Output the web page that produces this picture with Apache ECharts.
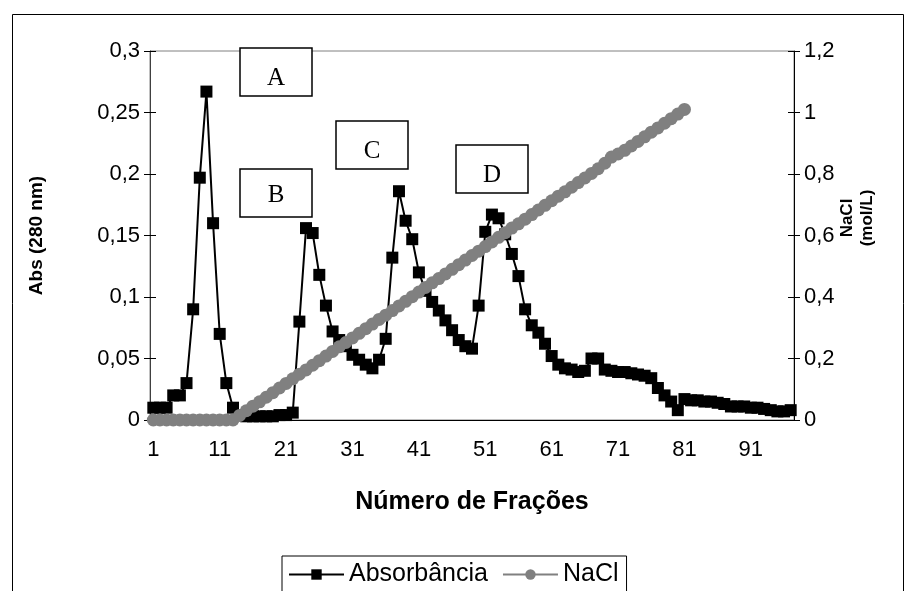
<!DOCTYPE html>
<html>
<head>
<meta charset="utf-8">
<script src="https://cdn.jsdelivr.net/npm/echarts@6/dist/echarts.min.js"></script>
<style>
html,body{margin:0;padding:0;background:#fff;}
#chart{width:909px;height:591px;}
</style>
</head>
<body>
<div id="chart"></div>
<script>
const fractions = ['1','2','3','4','5','6','7','8','9','10','11','12','13','14','15','16','17','18','19','20',
'21','22','23','24','25','26','27','28','29','30','31','32','33','34','35','36','37','38','39','40',
'41','42','43','44','45','46','47','48','49','50','51','52','53','54','55','56','57','58','59','60',
'61','62','63','64','65','66','67','68','69','70','71','72','73','74','75','76','77','78','79','80',
'81','82','83','84','85','86','87','88','89','90','91','92','93','94','95','96','97'];

const absorbancia = [
0.010,0.010,0.010,0.020,0.020,0.030,0.090,0.197,0.267,0.160,
0.070,0.030,0.010,0.004,0.003,0.003,0.003,0.003,0.003,0.004,
0.004,0.006,0.080,0.156,0.152,0.118,0.093,0.072,0.065,0.060,
0.053,0.049,0.045,0.042,0.049,0.066,0.132,0.186,0.162,0.147,
0.120,0.105,0.096,0.089,0.081,0.073,0.065,0.060,0.058,0.093,
0.153,0.167,0.164,0.151,0.135,0.117,0.090,0.077,0.071,0.062,
0.052,0.045,0.042,0.041,0.039,0.040,0.050,0.050,0.041,0.040,
0.039,0.039,0.038,0.037,0.036,0.034,0.026,0.020,0.015,0.008,
0.017,0.016,0.016,0.015,0.015,0.014,0.013,0.011,0.011,0.011,
0.010,0.010,0.009,0.008,0.007,0.007,0.008];

const nacl = [
0,0,0,0,0,0,0,0,0,0,
0,0,0,0.015,0.030,0.045,0.059,0.074,0.089,0.104,
0.119,0.134,0.149,0.163,0.178,0.193,0.208,0.223,0.238,0.252,
0.267,0.282,0.297,0.312,0.327,0.341,0.356,0.371,0.386,0.401,
0.416,0.431,0.446,0.460,0.475,0.490,0.505,0.520,0.535,0.549,
0.564,0.579,0.594,0.609,0.624,0.638,0.653,0.668,0.683,0.698,
0.713,0.728,0.742,0.757,0.772,0.787,0.802,0.817,0.835,0.855,
0.865,0.877,0.891,0.906,0.921,0.936,0.950,0.965,0.980,0.995,
1.010,null,null,null,null,null,null,null,null,null,
null,null,null,null,null,null,null];

const peakLabels = ['A','B','C','D'];

const fmt = v => String(Number(v.toFixed(3))).replace('.', ',');
const FONT = 'Liberation Sans, Arial, sans-serif';

const chart = echarts.init(document.getElementById('chart'));

const boxes = [
  {x:240, y:48, cy:78},
  {x:240, y:169, cy:195},
  {x:336, y:121, cy:151},
  {x:456, y:145, cy:175}
];
const graphics = [
  {type:'rect', left:10, top:12, shape:{x:0,y:0,width:891,height:600}, style:{fill:'none', stroke:'#000', lineWidth:1}, z:0, silent:true}
];
boxes.forEach((b,i)=>{
  graphics.push({type:'rect', shape:{x:b.x, y:b.y, width:72, height:48}, style:{fill:'#fff', stroke:'#000', lineWidth:1.5}, z:10});
  graphics.push({type:'text', x:b.x+36, y:b.cy, style:{text:peakLabels[i], fill:'#000', font:'25px "Liberation Serif", "Times New Roman", serif', textAlign:'center', textVerticalAlign:'middle'}, z:11});
});
// right axis title (two rotated lines)
graphics.push({type:'text', x:847, y:218, rotation:Math.PI/2,
  style:{text:'NaCl', fill:'#000', font:'bold 17px "Liberation Sans", Arial, sans-serif', textAlign:'center', textVerticalAlign:'middle'}, z:11});
graphics.push({type:'text', x:867, y:218, rotation:Math.PI/2,
  style:{text:'(mol/L)', fill:'#000', font:'bold 17px "Liberation Sans", Arial, sans-serif', textAlign:'center', textVerticalAlign:'middle'}, z:11});

const tickCommon = {interval:9, length:6, lineStyle:{color:'#000', width:1}};

chart.setOption({
  animation:false,
  backgroundColor:'#fff',
  grid:{left:150, right:115, top:51, bottom:171, show:true, borderColor:'#808080', borderWidth:1},
  legend:{
    left:282, top:556,
    data:['Absorbância','NaCl'],
    borderColor:'#000', borderWidth:1,
    padding:[6,8,12,6],
    itemGap:14,
    itemWidth:55, itemHeight:13,
    textStyle:{fontSize:25, color:'#000', fontFamily:FONT}
  },
  xAxis:[
    {type:'category', data:fractions, boundaryGap:true, position:'bottom',
     axisLine:{lineStyle:{color:'#000', width:1}},
     axisTick:tickCommon,
     axisLabel:{interval:9, fontSize:22, color:'#000', margin:19, fontFamily:FONT},
     name:'Número de Frações', nameLocation:'middle', nameGap:70,
     nameTextStyle:{fontSize:25, fontWeight:'bold', color:'#000', fontFamily:FONT},
     splitLine:{show:false}},
    {type:'category', data:fractions, boundaryGap:true, position:'bottom',
     axisLine:{show:false}, axisTick:Object.assign({inside:true}, tickCommon),
     axisLabel:{show:false}, splitLine:{show:false}}
  ],
  yAxis:[
    {type:'value', position:'left', min:0, max:0.3, interval:0.05,
     axisLine:{show:true, lineStyle:{color:'#404040'}},
     axisTick:{show:true, length:6, lineStyle:{color:'#000'}},
     axisLabel:{formatter:fmt, fontSize:22, color:'#000', margin:10, fontFamily:FONT},
     splitLine:{show:false},
     name:'Abs (280 nm)', nameLocation:'middle', nameRotate:90, nameGap:104,
     nameTextStyle:{fontSize:19, fontWeight:'bold', color:'#000', fontFamily:FONT}},
    {type:'value', position:'right', min:0, max:1.2, interval:0.2,
     axisLine:{show:true, lineStyle:{color:'#000'}},
     axisTick:{show:true, length:6, lineStyle:{color:'#000'}},
     axisLabel:{formatter:fmt, fontSize:22, color:'#000', margin:10, fontFamily:FONT},
     splitLine:{show:false}},
    {type:'value', position:'left', min:0, max:0.3, interval:0.05,
     axisLine:{show:false}, axisTick:{show:true, inside:true, length:6, lineStyle:{color:'#000'}},
     axisLabel:{show:false}, splitLine:{show:false}},
    {type:'value', position:'right', min:0, max:1.2, interval:0.2,
     axisLine:{show:false}, axisTick:{show:true, inside:true, length:6, lineStyle:{color:'#000'}},
     axisLabel:{show:false}, splitLine:{show:false}}
  ],
  series:[
    {name:'Absorbância', type:'line', xAxisIndex:0, yAxisIndex:0, data:absorbancia,
     symbol:'rect', symbolSize:12, showAllSymbol:true,
     lineStyle:{color:'#000', width:2}, itemStyle:{color:'#000'}, z:3},
    {name:'NaCl', type:'line', xAxisIndex:0, yAxisIndex:1, data:nacl,
     symbol:'circle', symbolSize:13, showAllSymbol:true, connectNulls:false,
     lineStyle:{color:'#808080', width:4}, itemStyle:{color:'#808080'}, z:4}
  ],
  graphic:graphics
});
</script>
</body>
</html>
